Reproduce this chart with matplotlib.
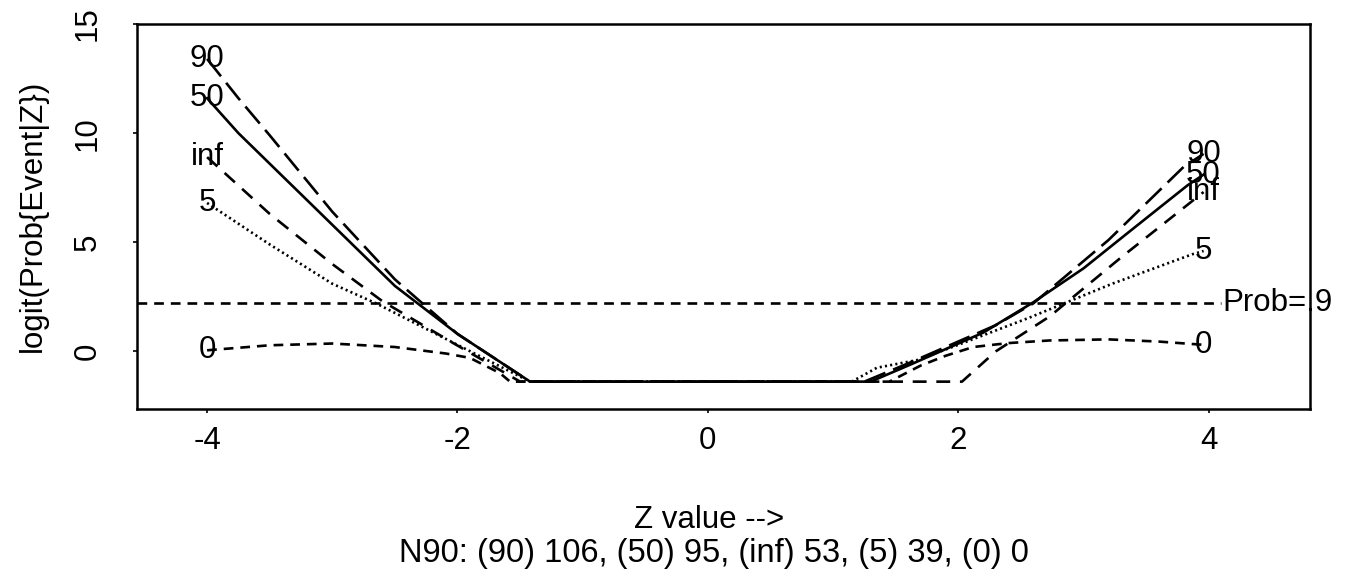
import numpy as np
import matplotlib
matplotlib.use("Agg")
from matplotlib import pyplot as plt

plt.rcParams['font.family'] = ['Liberation Sans', 'DejaVu Sans']
plt.rcParams['lines.scale_dashes'] = False
plt.rcParams['axes.unicode_minus'] = False

# curves: logit(Prob{Event|Z}) vs Z, one per N90 setting
floor = np.log(0.2 / 0.8)

z_90 = [-4, -3.75, -3.5, -3.0, -2.5, -2.0, -1.42, 1.25, 1.6, 2.0, 2.3, 2.6, 3.2, 3.8, 3.96]
y_90 = [13.4, 11.6, 9.9, 6.4, 3.3, 0.8, floor, floor, -0.55, 0.45, 1.2, 2.2, 5.1, 8.45, 9.05]

z_50 = [-4, -3.75, -3.5, -3.0, -2.5, -2.0, -1.42, 1.3, 1.6, 2.2, 2.6, 3.0, 3.37, 3.83, 3.96]
y_50 = [11.6, 10.0, 8.6, 5.8, 3.0, 0.8, floor, floor, -0.65, 0.86, 2.25, 3.8, 5.5, 7.6, 8.1]

z_inf = [-4, -3.5, -3.0, -2.6, -2.04, -1.5, 2.03, 2.3, 2.73, 3.3, 3.96]
y_inf = [8.9, 6.3, 4.0, 2.3, 0.4, floor, floor, 0.0, 1.6, 4.3, 7.3]

z_5 = [-4, -3.5, -3.0, -2.65, -2.0, -1.42, 1.15, 1.35, 1.67, 2.0, 2.57, 3.23, 3.87, 3.96]
y_5 = [6.8, 4.9, 3.1, 2.2, 0.3, floor, floor, -0.75, -0.4, 0.3, 1.55, 3.1, 4.45, 4.6]

z_0 = [-4, -3.5, -3.0, -2.5, -2.09, -1.9, -1.66, -1.58, 1.45, 1.7, 1.9, 2.12, 2.4, 2.73, 3.2, 3.6, 3.96]
y_0 = [0.05, 0.28, 0.36, 0.2, -0.1, -0.3, -1.0, floor, floor, -0.65, -0.2, 0.2, 0.38, 0.5, 0.55, 0.45, 0.3]

labels = ["90", "50", "inf", "5", "0"]
n90 = [106, 95, 53, 39, 0]
prob_ref = 0.9

curves = [(z_90, y_90, (0, (16, 6))),
          (z_50, y_50, '-'),
          (z_inf, y_inf, (0, (10, 7))),
          (z_5, y_5, (0, (1.5, 2.3))),
          (z_0, y_0, (0, (7, 5)))]

fs = 22.5
fig = plt.figure(figsize=(13.48, 5.75), dpi=100)
ax = fig.add_axes([137/1348, 1-409/575, (1310-137)/1348, (409-24)/575])

for (z, y, ls), lab in zip(curves, labels):
    ax.plot(z, y, color='black', lw=1.9, ls=ls)
    ax.text(z[0], y[0], lab, fontsize=fs, ha='center', va='center')
    ax.text(z[-1], y[-1], lab, fontsize=fs, ha='center', va='center')

ax.set_xlim(-4.56, 4.81)
ax.set_ylim(-2.64, 14.86)

y_ref = np.log(prob_ref / (1 - prob_ref))
ax.plot([-4.56, 4.1], [y_ref, y_ref], color='black', lw=1.9, ls=(0, (7, 5)))
ax.text(4.11, y_ref, "Prob=.9", fontsize=fs, ha='left', va='center', clip_on=False)

ax.set_xticks([-4, -2, 0, 2, 4])
ax.set_yticks([0, 5, 10, 15])
ax.tick_params(axis='both', length=3, width=1.2, labelsize=fs)
ax.tick_params(axis='x', pad=9)
ax.tick_params(axis='y', pad=22)
for t in ax.get_yticklabels():
    t.set_rotation(90)
    t.set_va('center')
for s in ax.spines.values():
    s.set_linewidth(1.8)

fig.text(33/1348, 1-216/575, "logit(Prob{Event|Z})", rotation=90, fontsize=fs,
         ha='center', va='center')
fig.text(709/1348, 1-528/575, "Z value -->", fontsize=fs, ha='center', va='baseline')
note = "N90: " + ", ".join("(%s) %d" % (l, n) for l, n in zip(labels, n90))
fig.text(714/1348, 1-562/575, note, fontsize=23.5, ha='center', va='baseline')

fig.savefig("out.png", dpi=100)
